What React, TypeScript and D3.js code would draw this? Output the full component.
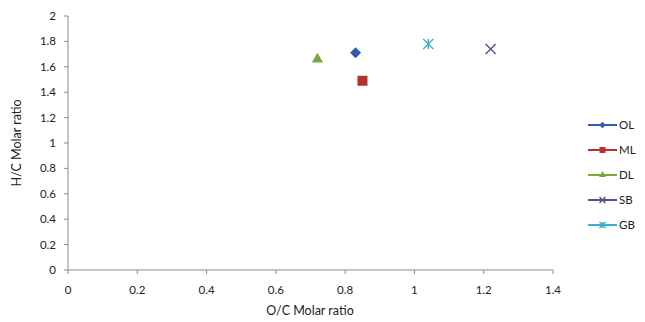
import React from "react";
import * as d3 from "d3";

const seriesNames = ["OL", "ML", "DL", "SB", "GB"];
const xValues = [0.83, 0.85, 0.72, 1.22, 1.04];
const yValues = [1.71, 1.49, 1.66, 1.74, 1.78];
const colors = ["#2F5BB0", "#B5302E", "#78A83A", "#5B4F90", "#3AAFC8"];
const shapes = ["diamond", "square", "triangle", "x", "star"];
const xTicks = [0, 0.2, 0.4, 0.6, 0.8, 1, 1.2, 1.4];
const yTicks = [0, 0.2, 0.4, 0.6, 0.8, 1, 1.2, 1.4, 1.6, 1.8, 2];

const W = 645, H = 322;
const x = d3.scaleLinear().domain([0, 1.4]).range([68, 553]);
const y = d3.scaleLinear().domain([0, 2]).range([270, 16]);
const font = "Lato, 'Open Sans', sans-serif";

function Marker({ shape, cx, cy, color, s }: { shape: string; cx: number; cy: number; color: string; s: number }) {
  if (shape === "diamond") {
    const h = s * 0.55;
    return <path d={`M${cx},${cy - h}L${cx + h},${cy}L${cx},${cy + h}L${cx - h},${cy}Z`} fill={color} />;
  }
  if (shape === "square") {
    return <rect x={cx - s / 2} y={cy - s / 2} width={s} height={s} fill={color} />;
  }
  if (shape === "triangle") {
    const p = d3.symbol(d3.symbolTriangle, s * s * 0.55)();
    return <path d={p || ""} transform={`translate(${cx},${cy})`} fill={color} />;
  }
  const h = s / 2;
  if (shape === "x") {
    return (
      <g stroke={color} strokeWidth={1.4}>
        <line x1={cx - h} y1={cy - h} x2={cx + h} y2={cy + h} />
        <line x1={cx - h} y1={cy + h} x2={cx + h} y2={cy - h} />
      </g>
    );
  }
  return (
    <g stroke={color} strokeWidth={1.4}>
      <line x1={cx - h} y1={cy - h} x2={cx + h} y2={cy + h} />
      <line x1={cx - h} y1={cy + h} x2={cx + h} y2={cy - h} />
      <line x1={cx} y1={cy - h} x2={cx} y2={cy + h} />
    </g>
  );
}

export default function App() {
  return (
    <svg width={W} height={H} style={{ position: "absolute", left: 0, top: 0, background: "#fff" }} fontFamily={font}>
      <line x1={x(0)} y1={y(0)} x2={x(1.4)} y2={y(0)} stroke="#8c8c8c" strokeWidth={1} />
      <line x1={x(0)} y1={y(0)} x2={x(0)} y2={y(2)} stroke="#8c8c8c" strokeWidth={1} />
      {xTicks.map((t) => (
        <g key={"x" + t}>
          <line x1={x(t)} x2={x(t)} y1={y(0)} y2={y(0) + 4} stroke="#8c8c8c" />
          <text x={x(t)} y={y(0) + 24} textAnchor="middle" fontSize={11.5} fill="#222">
            {t}
          </text>
        </g>
      ))}
      {yTicks.map((t) => (
        <g key={"y" + t}>
          <line x1={x(0) - 4} x2={x(0)} y1={y(t)} y2={y(t)} stroke="#8c8c8c" />
          <text x={56} y={y(t)} dy="0.35em" textAnchor="end" fontSize={11.5} fill="#222">
            {t}
          </text>
        </g>
      ))}
      <text x={310} y={315} textAnchor="middle" fontSize={12.5} fill="#222">
        O/C Molar ratio
      </text>
      <text transform={`translate(21,143) rotate(-90)`} textAnchor="middle" fontSize={12.5} fill="#222">
        H/C Molar ratio
      </text>
      {seriesNames.map((n, i) => (
        <Marker key={n} shape={shapes[i]} cx={x(xValues[i])} cy={y(yValues[i])} color={colors[i]} s={10} />
      ))}
      {seriesNames.map((n, i) => {
        const ly = 125 + i * 25;
        return (
          <g key={"l" + n}>
            <line x1={588} x2={617} y1={ly} y2={ly} stroke={colors[i]} strokeWidth={2} />
            <Marker shape={shapes[i]} cx={602.5} cy={ly} color={colors[i]} s={6} />
            <text x={619} y={ly} dy="0.35em" fontSize={11.5} fill="#222">
              {n}
            </text>
          </g>
        );
      })}
    </svg>
  );
}
